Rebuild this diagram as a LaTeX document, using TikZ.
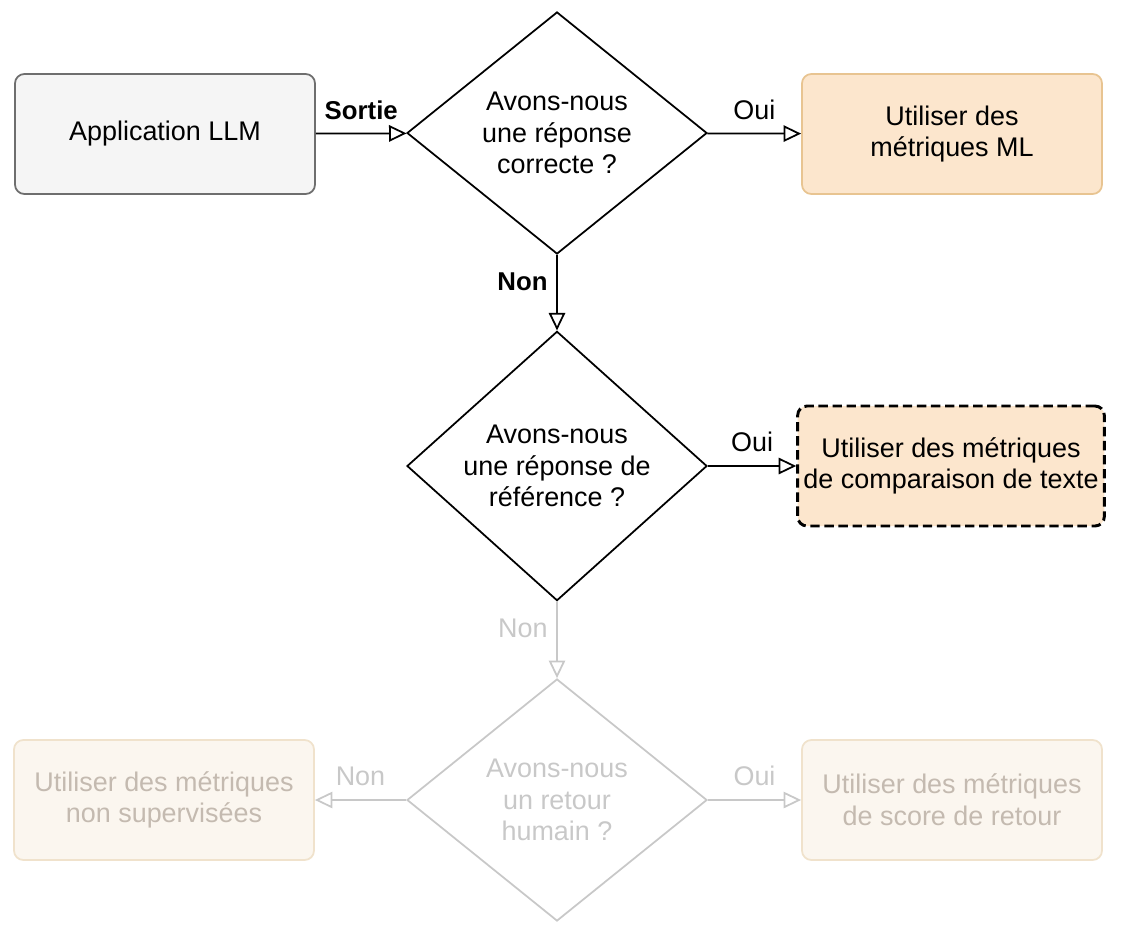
\documentclass[tikz,border=0pt]{standalone}
\usepackage{fontspec}
\setmainfont{Liberation Sans}
\usetikzlibrary{shapes.geometric, arrows.meta, positioning}
\definecolor{boxgray}{RGB}{245,245,245}
\definecolor{edgegray}{RGB}{110,110,110}
\definecolor{mlorange}{RGB}{252,230,205}
\definecolor{mledge}{RGB}{232,196,145}
\definecolor{fadetext}{RGB}{200,200,200}
\definecolor{fadebox}{RGB}{196,186,176}
\definecolor{fadefill}{RGB}{251,246,239}
\definecolor{fadeedge}{RGB}{240,226,204}
\begin{document}
\begin{tikzpicture}[x=0.03cm, y=-0.03cm,
    every node/.style={font=\fontsize{23}{27}\selectfont},
    box/.style={rectangle, rounded corners=8pt, minimum width=9cm, minimum height=3.6cm, align=center, line width=1.5pt},
    question/.style={diamond, draw, line width=1.5pt, minimum width=9cm, minimum height=7.26cm, inner sep=0pt, align=center},
    flow/.style={-{Triangle[open, length=15pt, width=14pt, line width=1.5pt]}, line width=1.5pt}
]
    \useasboundingbox (0,0) rectangle (1126,944);

    % First question
    \node[box, fill=boxgray, draw=edgegray] (app) at (165,134) {Application LLM};
    \node[question] (q1) at (557,133) {Avons-nous\\une réponse\\correcte ?};
    \node[box, fill=mlorange, draw=mledge] (ml) at (952,134) {Utiliser des\\métriques ML};

    % Second question
    \node[question] (q2) at (557,466) {Avons-nous\\une réponse de\\référence ?};
    \node[box, fill=mlorange, draw=black, dash pattern=on 8pt off 4pt, line width=2.5pt, minimum width=9.2cm] (txt) at (951,466) {Utiliser des métriques\\de comparaison de texte};

    % Third question (faded)
    \node[question, draw=fadetext, text=fadetext] (q3) at (557,800) {Avons-nous\\un retour\\humain ?};
    \node[box, fill=fadefill, draw=fadeedge, text=fadebox] (unsup) at (164,800) {Utiliser des métriques\\non supervisées};
    \node[box, fill=fadefill, draw=fadeedge, text=fadebox] (score) at (952,800) {Utiliser des métriques\\de score de retour};

    % Connectors
    \draw[flow] (app) -- node[above=8pt, font=\fontsize{22}{26}\selectfont\bfseries] {Sortie} (q1);
    \draw[flow] (q1) -- node[above=8pt] {Oui} (ml);
    \draw[flow] (q1) -- node[left=4pt, pos=0.35, font=\fontsize{22}{26}\selectfont\bfseries] {Non} (q2);
    \draw[flow] (q2) -- node[above=8pt] {Oui} (txt);
    \draw[flow, draw=fadetext] (q2) -- node[left=4pt, pos=0.35, text=fadetext] {Non} (q3);
    \draw[flow, draw=fadetext] (q3) -- node[above=8pt, text=fadetext] {Non} (unsup);
    \draw[flow, draw=fadetext] (q3) -- node[above=8pt, text=fadetext] {Oui} (score);
\end{tikzpicture}
\end{document}
